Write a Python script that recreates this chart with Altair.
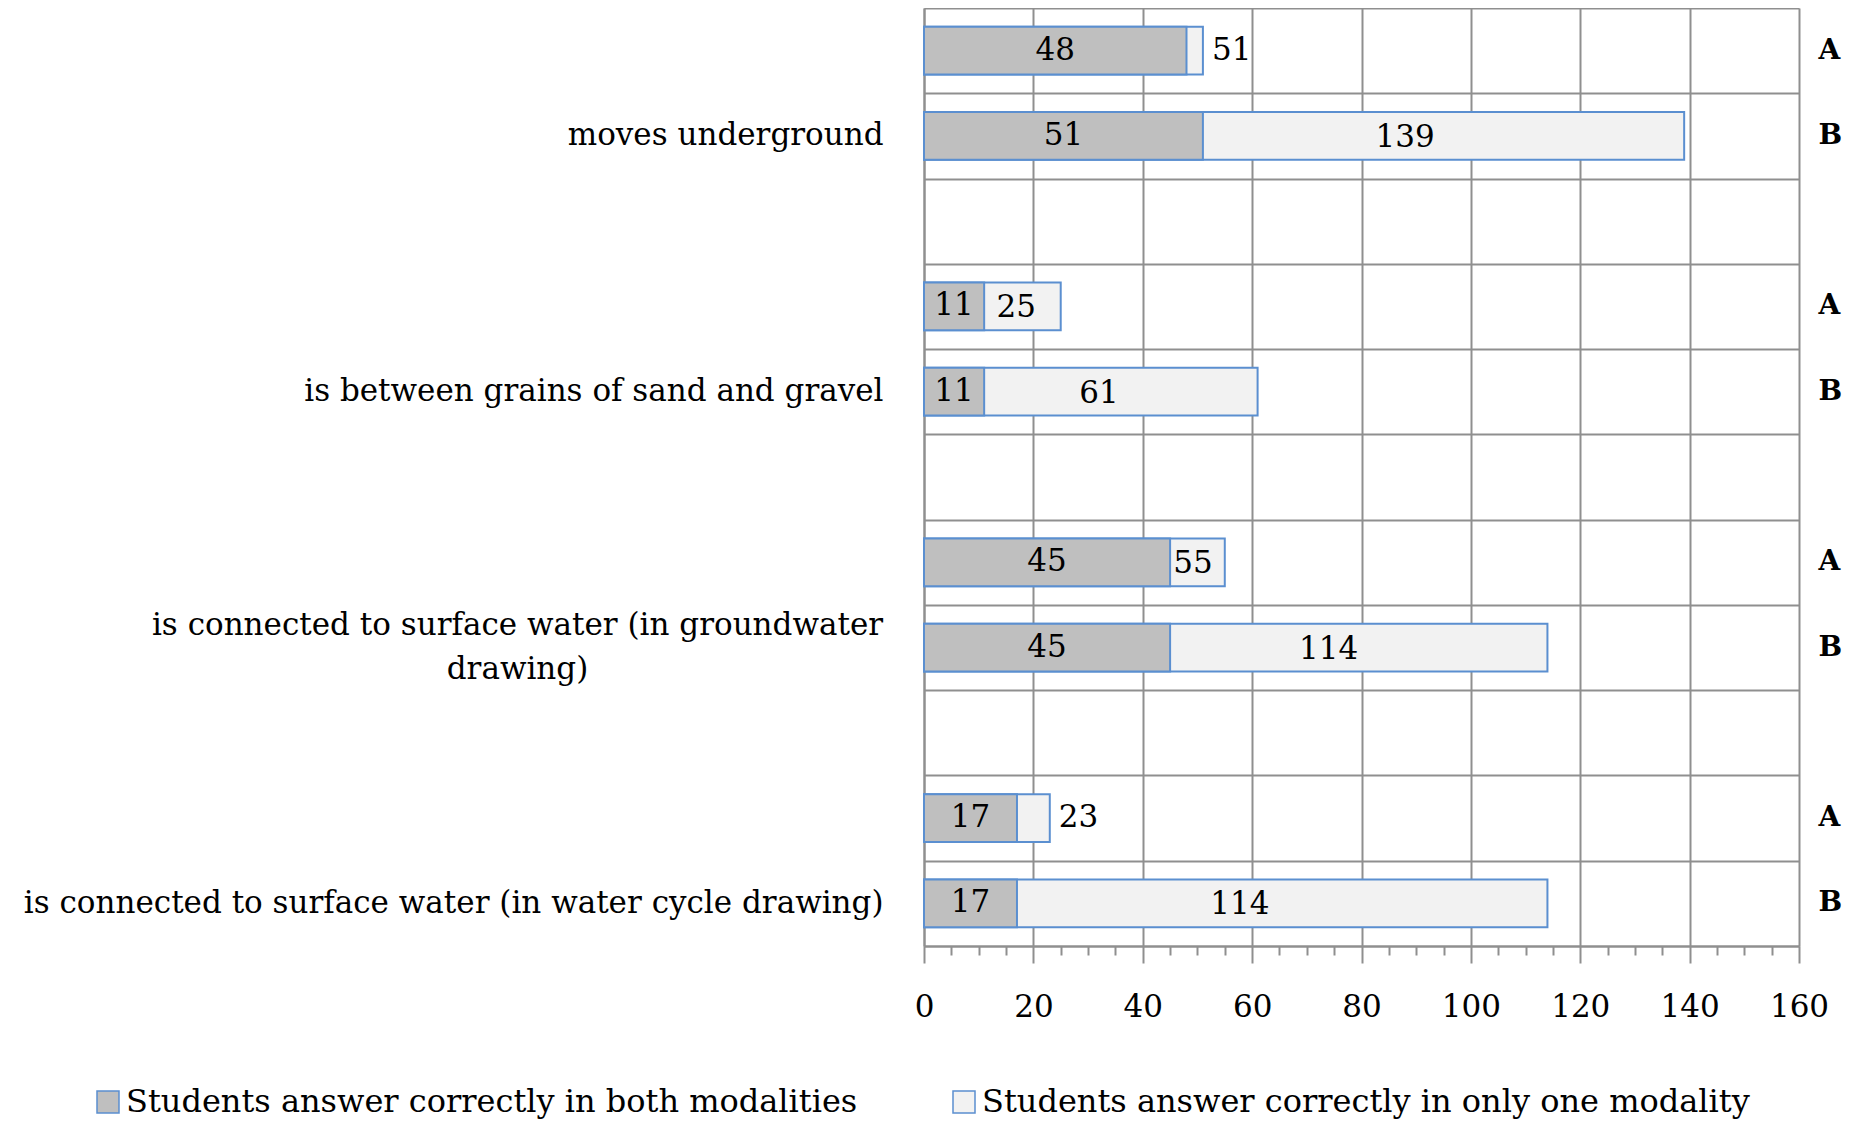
import altair as alt
import pandas as pd

# ---- data ----
category_lines = [
    ["moves underground"],
    ["is between grains of sand and gravel"],
    ["is connected to surface water (in groundwater", "drawing)"],
    ["is connected to surface water (in water cycle drawing)"],
]
modalities = ["A", "B"]
both_A = [48, 11, 45, 17]
total_A = [51, 25, 55, 23]
both_B = [51, 11, 45, 17]
total_B = [139, 61, 114, 114]
series_names = [
    "Students answer correctly in both modalities",
    "Students answer correctly in only one modality",
]
x_ticks = list(range(0, 161, 5))

# ---- styles ----
FONT = "DejaVu Serif"
FS = 31
GRID = "#8f8f8f"
BLUE = "#5b8fd0"
GRAY = "#bfbfbf"
LIGHT = "#f2f2f2"

# ---- build tables ----
slots = []
slot_mod = {}
slot_cat = {}
label_rows = []
n = len(category_lines)
both = {"A": both_A, "B": both_B}
total = {"A": total_A, "B": total_B}
for i in range(n):
    for m in modalities:
        s = f"{i}{m}"
        slots.append(s)
        slot_mod[s] = m
        if m == "B":
            slot_cat[s] = category_lines[i]
        label_rows.append({"slot": s, "both": both[m][i], "total": total[m][i]})
    if i < n - 1:
        slots.append(f"{i}_")

bar_rows = []
for r in label_rows:
    bar_rows.append({"slot": r["slot"], "series": series_names[1], "value": r["total"]})
for r in label_rows:
    bar_rows.append({"slot": r["slot"], "series": series_names[0], "value": r["both"]})

bars_df = pd.DataFrame(bar_rows)
labels_df = pd.DataFrame(label_rows)


def js_str(s):
    return "'" + s.replace("'", "\\'") + "'"


left_expr = "''"
wrapped_slot = None
for s, lines in slot_cat.items():
    val = js_str(lines[0]) if len(lines) == 1 else "[" + ", ".join(js_str(l) for l in lines) + "]"
    if len(lines) > 1:
        wrapped_slot = s
    left_expr = f"datum.value == {js_str(s)} ? {val} : ({left_expr})"

right_expr = "''"
for s, m in slot_mod.items():
    right_expr = f"datum.value == {js_str(s)} ? {js_str(m)} : ({right_expr})"

wrap_test = f"datum.value == {js_str(wrapped_slot)}"

W, H = 875, 938

y_scale = alt.Scale(domain=slots, paddingInner=0, paddingOuter=0)
x_scale = alt.Scale(domain=[0, 160], nice=False, zero=True)

major = "datum.value % 20 == 0"
x_axis = alt.Axis(
    title=None,
    values=x_ticks,
    labelExpr=f"{major} ? datum.label : ''",
    tickSize={"condition": {"test": major, "value": 17}, "value": 9},
    tickColor=GRID,
    tickWidth=2,
    grid=True,
    gridColor=GRID,
    gridWidth=2,
    gridOpacity={"condition": {"test": major, "value": 1}, "value": 0},
    domainColor=GRID,
    domainWidth=2,
    labelFont=FONT,
    labelFontSize=FS,
    labelColor="black",
    labelPadding=29,
    labelFlush=False,
    labelOverlap=False,
)

left_axis = alt.Axis(
    title=None,
    orient="left",
    tickBand="extent",
    grid=True,
    gridColor=GRID,
    gridWidth=2,
    domain=True,
    domainColor=GRID,
    domainWidth=2,
    ticks=False,
    tickSize=0,
    labelExpr=left_expr,
    labelFont=FONT,
    labelFontSize=FS,
    labelColor="black",
    labelLimit=3000,
    labelLineHeight=44,
    labelAlign={"condition": {"test": wrap_test, "value": "center"}, "value": "right"},
    labelPadding={"condition": {"test": wrap_test, "value": 407}, "value": 41},
    labelOffset={"condition": {"test": wrap_test, "value": -22}, "value": 0},
    labelOverlap=False,
)

right_axis = alt.Axis(
    title=None,
    orient="right",
    grid=False,
    domain=False,
    ticks=False,
    tickSize=0,
    labelExpr=right_expr,
    labelFont=FONT,
    labelFontSize=28,
    labelFontWeight="bold",
    labelColor="black",
    labelAlign="left",
    labelPadding=19,
    labelOverlap=False,
)

bars = alt.Chart(bars_df).mark_bar(
    height={"band": 0.56}, stroke=BLUE, strokeWidth=2
).encode(
    y=alt.Y("slot:N", scale=y_scale, axis=left_axis, sort=slots),
    x=alt.X("value:Q", scale=x_scale, axis=x_axis, stack=None),
    color=alt.Color(
        "series:N",
        scale=alt.Scale(domain=series_names, range=[GRAY, LIGHT]),
        legend=alt.Legend(
            title=None,
            orient="none",
            legendX=-832,
            legendY=1078,
            direction="horizontal",
            columns=2,
            symbolType="square",
            symbolSize=484,
            symbolStrokeColor=BLUE,
            symbolStrokeWidth=1.5,
            labelFont=FONT,
            labelFontSize=32,
            labelColor="black",
            labelOffset=2,
            labelLimit=3000,
            columnPadding=90,
            padding=0,
        ),
    ),
)

text_style = dict(font=FONT, fontSize=FS, color="black", baseline="middle")

gray_text = alt.Chart(labels_df).transform_calculate(
    xpos="datum.both / 2"
).mark_text(align="center", **text_style).encode(
    y=alt.Y("slot:N", scale=y_scale, axis=None, sort=slots),
    x=alt.X("xpos:Q", scale=x_scale, axis=None),
    text="both:Q",
)

light_in = alt.Chart(labels_df).transform_filter(
    "datum.total - datum.both >= 8"
).transform_calculate(
    xpos="datum.both + 0.42 * (datum.total - datum.both)"
).mark_text(align="center", dy=2, **text_style).encode(
    y=alt.Y("slot:N", scale=y_scale, axis=right_axis, sort=slots),
    x=alt.X("xpos:Q", scale=x_scale, axis=None),
    text="total:Q",
)

light_out = alt.Chart(labels_df).transform_filter(
    "datum.total - datum.both < 8"
).mark_text(align="left", dx=9, **text_style).encode(
    y=alt.Y("slot:N", scale=y_scale, axis=None, sort=slots),
    x=alt.X("total:Q", scale=x_scale, axis=None),
    text="total:Q",
)

chart = alt.layer(bars, gray_text, light_in, light_out).resolve_axis(
    y="independent", x="independent"
).properties(
    width=W,
    height=H,
    autosize=alt.AutoSizeParams(type="none"),
    padding={"left": 916, "top": 0, "right": 43, "bottom": 177},
).configure(font=FONT).configure_view(strokeWidth=0)

chart.save("out.html", embed_options={"renderer": "svg", "actions": False})
